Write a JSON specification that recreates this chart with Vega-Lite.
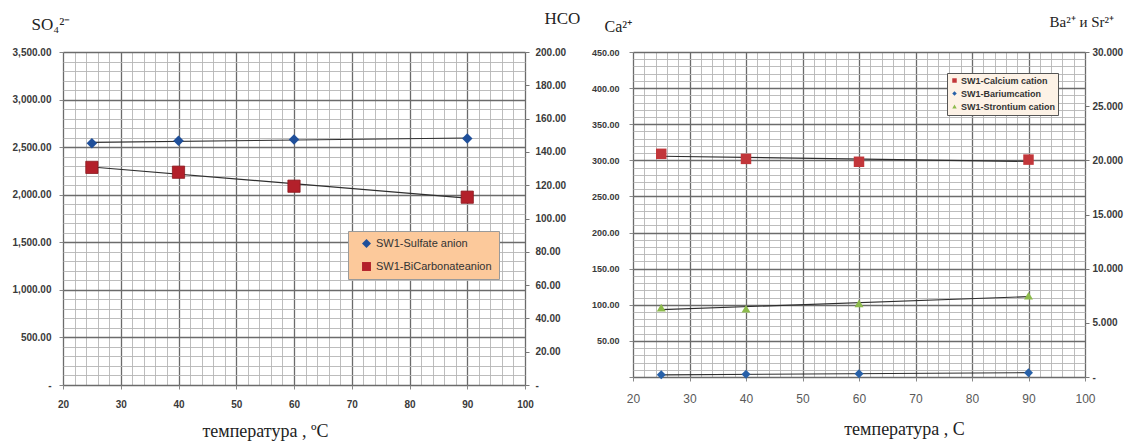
{
  "$schema": "https://vega.github.io/schema/vega-lite/v6.json",
  "background": "white",
  "padding": {"left": 11, "top": 8, "right": 0, "bottom": 0},
  "spacing": 108,
  "bounds": "flush",
  "datasets": {
    "anions": [
      {"temp": 25, "series": "SW1-Sulfate anion", "value": 2542},
      {"temp": 40, "series": "SW1-Sulfate anion", "value": 2567},
      {"temp": 60, "series": "SW1-Sulfate anion", "value": 2581},
      {"temp": 90, "series": "SW1-Sulfate anion", "value": 2591},
      {"temp": 25, "series": "SW1-BiCarbonateanion", "value": 130.7},
      {"temp": 40, "series": "SW1-BiCarbonateanion", "value": 127.8},
      {"temp": 60, "series": "SW1-BiCarbonateanion", "value": 119.4},
      {"temp": 90, "series": "SW1-BiCarbonateanion", "value": 112.8}
    ],
    "cations": [
      {"temp": 25, "series": "SW1-Calcium cation", "value": 309},
      {"temp": 40, "series": "SW1-Calcium cation", "value": 302},
      {"temp": 60, "series": "SW1-Calcium cation", "value": 298},
      {"temp": 90, "series": "SW1-Calcium cation", "value": 301},
      {"temp": 25, "series": "SW1-Bariumcation", "value": 0.2},
      {"temp": 40, "series": "SW1-Bariumcation", "value": 0.25},
      {"temp": 60, "series": "SW1-Bariumcation", "value": 0.3},
      {"temp": 90, "series": "SW1-Bariumcation", "value": 0.4},
      {"temp": 25, "series": "SW1-Strontium cation", "value": 6.4},
      {"temp": 40, "series": "SW1-Strontium cation", "value": 6.3},
      {"temp": 60, "series": "SW1-Strontium cation", "value": 6.8},
      {"temp": 90, "series": "SW1-Strontium cation", "value": 7.5}
    ]
  },
  "resolve": {"scale": {"color": "independent", "shape": "independent"}, "legend": {"color": "independent", "shape": "independent"}},
  "hconcat": [
    {
      "width": 462,
      "height": 333,
      "data": {"name": "anions"},
      "encoding": {
        "x": {
          "field": "temp", "type": "quantitative",
          "scale": {"domain": [20, 100], "nice": false, "zero": false},
          "axis": {
            "values": [20,22,24,26,28,30,32,34,36,38,40,42,44,46,48,50,52,54,56,58,60,62,64,66,68,70,72,74,76,78,80,82,84,86,88,90,92,94,96,98,100],
            "tickCount": 200,
            "labelExpr": "datum.value % 10 === 0 ? format(datum.value, 'd') : ''",
            "labelOverlap": false, "labelFlush": false,
            "labelFontSize": 10, "labelFontWeight": "bold", "labelColor": "#3a3a3a", "labelPadding": 10,
            "grid": true,
            "gridColor": {"condition": {"test": "datum.value % 10 === 0", "value": "#6b6b6b"}, "value": "#b5b5b5"},
            "gridWidth": {"condition": {"test": "datum.value % 10 === 0", "value": 1.3}, "value": 0.9},
            "tickOpacity": {"condition": {"test": "datum.value % 10 === 0", "value": 1}, "value": 0},
            "tickSize": 4, "domain": false,
            "title": "температура , ºC",
            "titleFont": "Liberation Serif", "titleFontSize": 18, "titleFontWeight": "normal", "titleColor": "#222",
            "titleAlign": "center", "titleBaseline": "alphabetic", "titleX": 202, "titleY": 51
          }
        }
      },
      "layer": [
        {
          "layer": [
            {
              "transform": [{"filter": "datum.series === 'SW1-Sulfate anion'"}, {"regression": "value", "on": "temp"}],
              "mark": {"type": "line", "color": "#2e2e2e", "strokeWidth": 1.2},
              "encoding": {
                "y": {
                  "field": "value", "type": "quantitative",
                  "scale": {"domain": [0, 3500], "nice": false}
                }
              }
            },
            {
              "transform": [{"filter": "datum.series === 'SW1-Sulfate anion'"}],
              "mark": {"type": "point", "filled": true, "opacity": 1, "size": 110},
              "encoding": {
                "y": {
                  "field": "value", "type": "quantitative",
                  "axis": {
                    "orient": "left",
                    "values": [0,100,200,300,400,500,600,700,800,900,1000,1100,1200,1300,1400,1500,1600,1700,1800,1900,2000,2100,2200,2300,2400,2500,2600,2700,2800,2900,3000,3100,3200,3300,3400,3500],
                    "tickCount": 200,
                    "labelExpr": "datum.value % 500 === 0 ? (datum.value === 0 ? '-' : format(datum.value, ',.2f')) : ''",
                    "labelOverlap": false, "labelFlush": false,
                    "labelFontSize": 10, "labelFontWeight": "bold", "labelColor": "#3a3a3a", "labelPadding": 8,
                    "grid": true,
                    "gridColor": {"condition": {"test": "datum.value % 500 === 0", "value": "#6b6b6b"}, "value": "#b5b5b5"},
                    "gridWidth": {"condition": {"test": "datum.value % 500 === 0", "value": 1.3}, "value": 0.9},
                    "tickOpacity": {"condition": {"test": "datum.value % 500 === 0", "value": 1}, "value": 0},
                    "tickSize": 4, "domain": false,
                    "title": "SO₄²⁻",
                    "titleFont": "Liberation Serif", "titleFontSize": 17, "titleFontWeight": "normal", "titleColor": "#222",
                    "titleAngle": 0, "titleAlign": "left", "titleBaseline": "alphabetic", "titleX": -32, "titleY": -23
                  }
                },
                "color": {
                  "field": "series", "type": "nominal",
                  "scale": {"domain": ["SW1-Sulfate anion", "SW1-BiCarbonateanion"], "range": ["#1f4f9a", "#b3202a"]},
                  "legend": {
                    "title": null, "orient": "none", "legendX": 285, "legendY": 179,
                    "fillColor": "#fcc99b", "strokeColor": "#9a9a9a", "padding": 7,
                    "labelFont": "Liberation Sans", "labelFontSize": 11, "labelColor": "#333",
                    "symbolSize": 80, "rowPadding": 11, "labelOffset": 4, "symbolOffset": 6
                  }
                },
                "shape": {
                  "field": "series", "type": "nominal",
                  "scale": {"domain": ["SW1-Sulfate anion", "SW1-BiCarbonateanion"], "range": ["diamond", "square"]},
                  "legend": {
                    "title": null, "orient": "none", "legendX": 285, "legendY": 179,
                    "fillColor": "#fcc99b", "strokeColor": "#9a9a9a", "padding": 7,
                    "labelFont": "Liberation Sans", "labelFontSize": 11, "labelColor": "#333",
                    "symbolSize": 80, "rowPadding": 11, "labelOffset": 4, "symbolOffset": 6
                  }
                }
              }
            }
          ]
        },
        {
          "layer": [
            {
              "transform": [{"filter": "datum.series === 'SW1-BiCarbonateanion'"}, {"regression": "value", "on": "temp"}],
              "mark": {"type": "line", "color": "#2e2e2e", "strokeWidth": 1.2},
              "encoding": {
                "y": {
                  "field": "value", "type": "quantitative",
                  "scale": {"domain": [0, 200], "nice": false},
                  "axis": {
                    "orient": "right",
                    "values": [0,20,40,60,80,100,120,140,160,180,200],
                    "tickCount": 200,
                    "labelExpr": "datum.value === 0 ? '-' : format(datum.value, '.2f')",
                    "labelOverlap": false, "labelFlush": false,
                    "labelFontSize": 10, "labelFontWeight": "bold", "labelColor": "#3a3a3a", "labelPadding": 6,
                    "grid": false, "tickSize": 4, "tickColor": "#777", "domain": false,
                    "title": "HCO",
                    "titleFont": "Liberation Serif", "titleFontSize": 17, "titleFontWeight": "normal", "titleColor": "#222",
                    "titleAngle": 0, "titleAlign": "left", "titleBaseline": "alphabetic", "titleX": 19, "titleY": -29
                  }
                }
              }
            },
            {
              "transform": [{"filter": "datum.series === 'SW1-BiCarbonateanion'"}],
              "mark": {"type": "point", "filled": true, "opacity": 1, "size": 150, "stroke": "#8a1a20", "strokeWidth": 0.8},
              "encoding": {
                "y": {"field": "value", "type": "quantitative"},
                "color": {"field": "series", "type": "nominal"},
                "shape": {"field": "series", "type": "nominal"}
              }
            }
          ]
        }
      ],
      "resolve": {"scale": {"y": "independent"}}
    },
    {
      "width": 452,
      "height": 325,
      "data": {"name": "cations"},
      "encoding": {
        "x": {
          "field": "temp", "type": "quantitative",
          "scale": {"domain": [20, 100], "nice": false, "zero": false},
          "axis": {
            "values": [20,22,24,26,28,30,32,34,36,38,40,42,44,46,48,50,52,54,56,58,60,62,64,66,68,70,72,74,76,78,80,82,84,86,88,90,92,94,96,98,100],
            "tickCount": 200,
            "labelExpr": "datum.value % 10 === 0 ? format(datum.value, 'd') : ''",
            "labelOverlap": false, "labelFlush": false,
            "labelFontSize": 12, "labelFontWeight": "normal", "labelColor": "#595959", "labelPadding": 12,
            "grid": true,
            "gridColor": {"condition": {"test": "datum.value % 10 === 0", "value": "#6b6b6b"}, "value": "#b5b5b5"},
            "gridWidth": {"condition": {"test": "datum.value % 10 === 0", "value": 1.3}, "value": 0.9},
            "tickOpacity": {"condition": {"test": "datum.value % 10 === 0", "value": 1}, "value": 0},
            "tickSize": 4, "domain": false,
            "title": "температура , C",
            "titleFont": "Liberation Serif", "titleFontSize": 18, "titleFontWeight": "normal", "titleColor": "#222",
            "titleAlign": "center", "titleBaseline": "alphabetic", "titleX": 271, "titleY": 57
          }
        }
      },
      "layer": [
        {
          "layer": [
            {
              "transform": [{"filter": "datum.series === 'SW1-Calcium cation'"}, {"regression": "value", "on": "temp"}],
              "mark": {"type": "line", "color": "#2e2e2e", "strokeWidth": 1.2},
              "encoding": {
                "y": {
                  "field": "value", "type": "quantitative",
                  "scale": {"domain": [0, 450], "nice": false}
                }
              }
            },
            {
              "transform": [{"filter": "datum.series === 'SW1-Calcium cation'"}],
              "mark": {"type": "point", "filled": true, "opacity": 1, "size": 110},
              "encoding": {
                "y": {
                  "field": "value", "type": "quantitative",
                  "axis": {
                    "orient": "left",
                    "values": [0,10,20,30,40,50,60,70,80,90,100,110,120,130,140,150,160,170,180,190,200,210,220,230,240,250,260,270,280,290,300,310,320,330,340,350,360,370,380,390,400,410,420,430,440,450],
                    "tickCount": 200,
                    "labelExpr": "datum.value % 50 === 0 ? (datum.value === 0 ? '' : format(datum.value, '.2f')) : ''",
                    "labelOverlap": false, "labelFlush": false,
                    "labelFontSize": 9, "labelFontWeight": "bold", "labelColor": "#3a3a3a", "labelPadding": 10,
                    "grid": true,
                    "gridColor": {"condition": {"test": "datum.value % 50 === 0", "value": "#6b6b6b"}, "value": "#b5b5b5"},
                    "gridWidth": {"condition": {"test": "datum.value % 50 === 0", "value": 1.3}, "value": 0.9},
                    "tickOpacity": {"condition": {"test": "datum.value % 50 === 0", "value": 1}, "value": 0},
                    "tickSize": 4, "domain": false,
                    "title": "Ca²⁺",
                    "titleFont": "Liberation Serif", "titleFontSize": 16, "titleFontWeight": "normal", "titleColor": "#222",
                    "titleAngle": 0, "titleAlign": "left", "titleBaseline": "alphabetic", "titleX": -29, "titleY": -21
                  }
                },
                "color": {
                  "field": "series", "type": "nominal",
                  "scale": {"domain": ["SW1-Calcium cation", "SW1-Bariumcation", "SW1-Strontium cation"], "range": ["#c2363a", "#2760a8", "#8dbb4c"]},
                  "legend": {
                    "title": null, "orient": "none", "legendX": 314, "legendY": 21,
                    "fillColor": "#fdf2e6", "strokeColor": "#555", "padding": 3,
                    "labelFont": "Liberation Sans", "labelFontSize": 9, "labelFontWeight": "bold", "labelColor": "#333",
                    "symbolSize": 20, "rowPadding": 3, "labelOffset": 2
                  }
                },
                "shape": {
                  "field": "series", "type": "nominal",
                  "scale": {"domain": ["SW1-Calcium cation", "SW1-Bariumcation", "SW1-Strontium cation"], "range": ["square", "diamond", "triangle-up"]},
                  "legend": {
                    "title": null, "orient": "none", "legendX": 314, "legendY": 21,
                    "fillColor": "#fdf2e6", "strokeColor": "#555", "padding": 3,
                    "labelFont": "Liberation Sans", "labelFontSize": 9, "labelFontWeight": "bold", "labelColor": "#333",
                    "symbolSize": 20, "rowPadding": 3, "labelOffset": 2
                  }
                }
              }
            }
          ]
        },
        {
          "layer": [
            {
              "transform": [{"filter": "datum.series !== 'SW1-Calcium cation'"}, {"regression": "value", "on": "temp", "groupby": ["series"]}],
              "mark": {"type": "line", "color": "#2e2e2e", "strokeWidth": 1.2},
              "encoding": {
                "detail": {"field": "series"},
                "y": {
                  "field": "value", "type": "quantitative",
                  "scale": {"domain": [0, 30], "nice": false},
                  "axis": {
                    "orient": "right",
                    "values": [0,5,10,15,20,25,30],
                    "tickCount": 200,
                    "labelExpr": "datum.value === 0 ? '-' : format(datum.value, '.3f')",
                    "labelOverlap": false, "labelFlush": false,
                    "labelFontSize": 10, "labelFontWeight": "bold", "labelColor": "#3a3a3a", "labelPadding": 3,
                    "grid": false, "tickSize": 4, "tickColor": "#777", "domain": false,
                    "title": "Ba²⁺ и Sr²⁺",
                    "titleFont": "Liberation Serif", "titleFontSize": 15, "titleFontWeight": "normal", "titleColor": "#222",
                    "titleAngle": 0, "titleAlign": "left", "titleBaseline": "alphabetic", "titleX": -36, "titleY": -26
                  }
                }
              }
            },
            {
              "transform": [{"filter": "datum.series !== 'SW1-Calcium cation'"}],
              "mark": {"type": "point", "filled": true, "opacity": 1, "size": 80},
              "encoding": {
                "y": {"field": "value", "type": "quantitative"},
                "color": {"field": "series", "type": "nominal"},
                "shape": {"field": "series", "type": "nominal"}
              }
            }
          ]
        }
      ],
      "resolve": {"scale": {"y": "independent"}}
    }
  ]
}
